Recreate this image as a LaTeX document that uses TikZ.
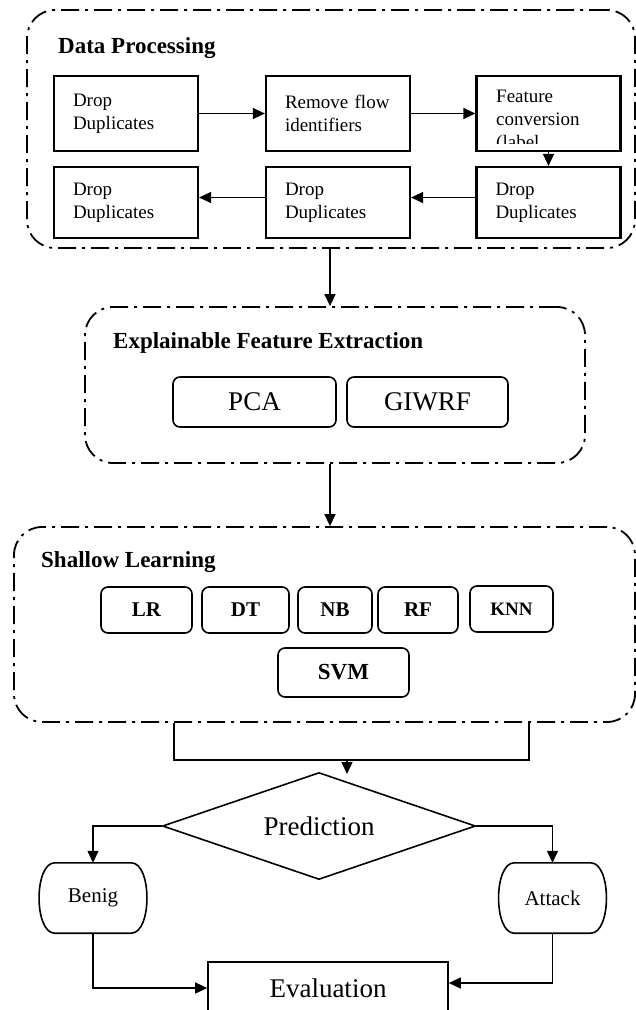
\documentclass[tikz,border=0pt]{standalone}
\usepackage{fontspec}
\setmainfont{Liberation Serif}
\usetikzlibrary{arrows.meta,shapes.geometric}
\begin{document}
\begin{tikzpicture}[x=1pt,y=-1pt,
  grp/.style={draw, line width=1.8pt, rounded corners=28pt, dash pattern=on 18pt off 6pt on 3pt off 6pt},
  sq/.style={draw, line width=2.2pt, minimum width=144pt, minimum height=75pt, text width=106pt, inner xsep=19pt, align=left, font=\fontsize{19}{23}\selectfont},
  rbox/.style={draw, line width=1.6pt, rounded corners=7pt, inner sep=0pt},
  mbox/.style={rbox, minimum height=46pt, font=\bfseries\fontsize{21}{24}\selectfont},
  arr/.style={line width=1.4pt, -{Triangle[length=12pt,width=11pt]}},
  ln/.style={line width=1.4pt},
  ttl/.style={anchor=west, inner sep=0pt, font=\bfseries\fontsize{23}{27}\selectfont},
  term/.style={minimum width=108pt, minimum height=70pt, inner sep=0pt, font=\fontsize{21}{24}\selectfont},
  tshape/.style={line width=1.6pt},
]
\useasboundingbox (0,0) rectangle (636,1010);
\clip (0,0) rectangle (636,1010);

% ---------------- Data Processing ----------------
\node[grp, minimum width=608pt, minimum height=238pt] (dp) at (331,129) {};
\node[ttl] (dpt) at (58,48) {Data Processing};
\node[sq] (b1) at (126,113.5) {Drop\\Duplicates};
\node[sq] (b2) at (338,113.5) {Remove flow\\identifiers};
\node[sq] (b3) at (548.5,113.5) {};
\begin{scope}
  \clip (478,77) rectangle (619,143);
  \node[anchor=north west, align=left, inner sep=0pt, font=\fontsize{19}{23}\selectfont] (b3t) at (496,89.5) {Feature\\conversion\\(label};
\end{scope}
\node[sq, minimum height=71pt] (b4) at (126,202.5) {Drop\\Duplicates};
\node[sq, minimum height=71pt] (b5) at (338,202.5) {Drop\\Duplicates};
\node[sq, minimum height=71pt] (b6) at (548.5,202.5) {Drop\\Duplicates};

\draw[arr] (b1) -- (b2);
\draw[arr] (b2) -- (b3);
\draw[arr] (b3) -- (b6);
\draw[arr] ([yshift=5pt]b6.west) -- ([yshift=5pt]b5.east);
\draw[arr] ([yshift=5pt]b5.west) -- ([yshift=5pt]b4.east);

% ---------------- Explainable Feature Extraction ----------------
\node[grp, minimum width=500pt, minimum height=156pt] (efe) at (335,385) {};
\node[ttl] (efet) at (113,343) {Explainable Feature Extraction};
\node[rbox, minimum width=163pt, minimum height=50pt, font=\fontsize{27}{30}\selectfont] (pca) at (254.5,402) {PCA};
\node[rbox, minimum width=161pt, minimum height=50pt, font=\fontsize{27}{30}\selectfont] (giwrf) at (427.5,402) {GIWRF};

\draw[arr] (dp.south -| 330,0) -- (efe.north -| 330,0);

% ---------------- Shallow Learning ----------------
\node[grp, minimum width=621pt, minimum height=195pt] (sl) at (324.5,624.5) {};
\node[ttl] (slt) at (41,562) {Shallow Learning};
\node[mbox, minimum width=91pt] (lr) at (146.5,610) {LR};
\node[mbox, minimum width=87pt] (dt) at (245.5,610) {DT};
\node[mbox, minimum width=74pt] (nb) at (335,610) {NB};
\node[mbox, minimum width=80pt] (rf) at (418,610) {RF};
\node[mbox, minimum width=83pt, font=\bfseries\fontsize{19}{22}\selectfont] (knn) at (511.5,609) {KNN};
\node[mbox, minimum width=131pt, minimum height=49pt, font=\bfseries\fontsize{23}{26}\selectfont] (svm) at (343.5,672.5) {SVM};

\draw[arr] (efe.south -| 330,0) -- (sl.north -| 330,0);

% ---------------- Prediction ----------------
\node[diamond, draw, line width=1.6pt, shape aspect=2.93, minimum width=313pt, minimum height=107pt, inner sep=0pt, font=\fontsize{27}{30}\selectfont] (pred) at (319,826) {Prediction};

\coordinate (s1) at (174,760);
\coordinate (s2) at (529,760);
\coordinate (sm) at (347,760);
\draw[ln] (sl.south -| s1) -- (s1) -- (s2) -- (sl.south -| s2);
\draw[arr] (sm) -- (347,774);

% Benig / Attack
\node[term] (benig) at (93,898) {Benig};
\node[term] (attack) at (552.5,898) {Attack};
\foreach \n in {benig,attack}{
  \draw[tshape] ([xshift=16pt]\n.north west) -- ([xshift=-16pt]\n.north east)
    .. controls ([xshift=5pt]\n.north east) and ([xshift=5pt]\n.south east) .. ([xshift=-16pt]\n.south east)
    -- ([xshift=16pt]\n.south west)
    .. controls ([xshift=-5pt]\n.south west) and ([xshift=-5pt]\n.north west) .. cycle;
}

\draw[arr] (pred.west) -| (benig.north);
\draw[arr] (pred.east) -| (attack.north);

% Evaluation
\node[draw, line width=1.6pt, minimum width=240pt, minimum height=52pt, inner sep=0pt, font=\fontsize{27}{30}\selectfont] (eval) at (328,988) {Evaluation};

\draw[arr] (benig.south) |- (eval.west);
\draw[arr] (attack.south) |- ([yshift=5pt]eval.east);
\end{tikzpicture}
\end{document}
